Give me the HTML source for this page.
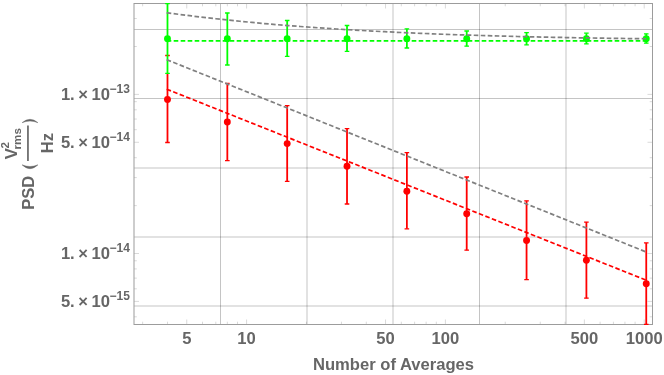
<!DOCTYPE html><html><head><meta charset="utf-8"><style>html,body{margin:0;padding:0;background:#fff}body{width:664px;height:375px;overflow:hidden}</style></head><body><svg width="664" height="375" viewBox="0 0 664 375" style="display:block;will-change:transform;font-family:'Liberation Sans',sans-serif;font-weight:bold">
<rect width="664" height="375" fill="#fff"/>
<line x1="220.5" y1="3.5" x2="220.5" y2="324.5" stroke="#000" stroke-opacity="0.23" stroke-width="1"/>
<line x1="307.0" y1="3.5" x2="307.0" y2="324.5" stroke="#000" stroke-opacity="0.23" stroke-width="1"/>
<line x1="393.0" y1="3.5" x2="393.0" y2="324.5" stroke="#000" stroke-opacity="0.23" stroke-width="1"/>
<line x1="479.5" y1="3.5" x2="479.5" y2="324.5" stroke="#000" stroke-opacity="0.23" stroke-width="1"/>
<line x1="566.0" y1="3.5" x2="566.0" y2="324.5" stroke="#000" stroke-opacity="0.23" stroke-width="1"/>
<line x1="134.0" y1="29.5" x2="652.5" y2="29.5" stroke="#000" stroke-opacity="0.23" stroke-width="1"/>
<line x1="134.0" y1="98.5" x2="652.5" y2="98.5" stroke="#000" stroke-opacity="0.23" stroke-width="1"/>
<line x1="134.0" y1="168.0" x2="652.5" y2="168.0" stroke="#000" stroke-opacity="0.23" stroke-width="1"/>
<line x1="134.0" y1="237.0" x2="652.5" y2="237.0" stroke="#000" stroke-opacity="0.23" stroke-width="1"/>
<line x1="134.0" y1="306.0" x2="652.5" y2="306.0" stroke="#000" stroke-opacity="0.23" stroke-width="1"/>
<clipPath id="c"><rect x="134.0" y="3.0" width="518.5" height="322.0"/></clipPath>
<path d="M186.76 324.5v-5.0M186.76 3.5v5.0M246.60 324.5v-5.0M246.60 3.5v5.0M385.56 324.5v-5.0M385.56 3.5v5.0M445.40 324.5v-5.0M445.40 3.5v5.0M584.36 324.5v-5.0M584.36 3.5v5.0M644.20 324.5v-5.0M644.20 3.5v5.0M142.65 324.5v-2.8M142.65 3.5v2.8M167.49 324.5v-2.8M167.49 3.5v2.8M202.50 324.5v-2.8M202.50 3.5v2.8M215.81 324.5v-2.8M215.81 3.5v2.8M227.33 324.5v-2.8M227.33 3.5v2.8M237.50 324.5v-2.8M237.50 3.5v2.8M306.44 324.5v-2.8M306.44 3.5v2.8M341.45 324.5v-2.8M341.45 3.5v2.8M366.29 324.5v-2.8M366.29 3.5v2.8M401.30 324.5v-2.8M401.30 3.5v2.8M414.61 324.5v-2.8M414.61 3.5v2.8M426.13 324.5v-2.8M426.13 3.5v2.8M436.30 324.5v-2.8M436.30 3.5v2.8M505.24 324.5v-2.8M505.24 3.5v2.8M540.25 324.5v-2.8M540.25 3.5v2.8M565.09 324.5v-2.8M565.09 3.5v2.8M600.10 324.5v-2.8M600.10 3.5v2.8M613.41 324.5v-2.8M613.41 3.5v2.8M624.93 324.5v-2.8M624.93 3.5v2.8M635.10 324.5v-2.8M635.10 3.5v2.8M134.0 94.40h5.0M652.5 94.40h-5.0M134.0 142.29h5.0M652.5 142.29h-5.0M134.0 253.50h5.0M652.5 253.50h-5.0M134.0 301.39h5.0M652.5 301.39h-5.0M134.0 18.49h2.8M652.5 18.49h-2.8M134.0 46.51h2.8M652.5 46.51h-2.8M134.0 101.68h2.8M652.5 101.68h-2.8M134.0 109.82h2.8M652.5 109.82h-2.8M134.0 119.04h2.8M652.5 119.04h-2.8M134.0 129.70h2.8M652.5 129.70h-2.8M134.0 157.71h2.8M652.5 157.71h-2.8M134.0 177.59h2.8M652.5 177.59h-2.8M134.0 205.61h2.8M652.5 205.61h-2.8M134.0 260.78h2.8M652.5 260.78h-2.8M134.0 268.92h2.8M652.5 268.92h-2.8M134.0 278.14h2.8M652.5 278.14h-2.8M134.0 288.80h2.8M652.5 288.80h-2.8M134.0 316.81h2.8M652.5 316.81h-2.8" stroke="#000" stroke-opacity="0.3" stroke-width="0.5" fill="none"/>
<rect x="134.0" y="3.5" width="518.5" height="321.0" fill="none" stroke="#9c9c9c" stroke-width="1"/>
<g clip-path="url(#c)">
<line x1="166.69" y1="89.18" x2="646.25" y2="280.2" stroke="#ff0000" stroke-width="1.7" stroke-dasharray="4.6 2.4" stroke-dashoffset="0"/>
<path d="M167.49 74V142.5M227.33 83.3V160.7M287.18 105.6V181.3M347.02 128.6V204M406.87 152.6V228.8M466.71 177V250.2M526.56 200.8V279.6M586.40 222.1V298.2M646.25 242.9V324.4" stroke="#ff0000" stroke-width="1.8" fill="none"/>
<path d="M165.19 55.5h4.6M165.19 142.5h4.6M225.03 83.3h4.6M225.03 160.7h4.6M284.88 105.6h4.6M284.88 181.3h4.6M344.72 128.6h4.6M344.72 204h4.6M404.57 152.6h4.6M404.57 228.8h4.6M464.41 177h4.6M464.41 250.2h4.6M524.26 200.8h4.6M524.26 279.6h4.6M584.10 222.1h4.6M584.10 298.2h4.6M643.95 242.9h4.6M643.95 324.4h4.6" stroke="#ff0000" stroke-width="1.3" fill="none"/>
<circle cx="167.49" cy="99.5" r="3.45" fill="#ff0000"/>
<circle cx="227.33" cy="122" r="3.45" fill="#ff0000"/>
<circle cx="287.18" cy="143.6" r="3.45" fill="#ff0000"/>
<circle cx="347.02" cy="166.2" r="3.45" fill="#ff0000"/>
<circle cx="406.87" cy="191.3" r="3.45" fill="#ff0000"/>
<circle cx="466.71" cy="213.8" r="3.45" fill="#ff0000"/>
<circle cx="526.56" cy="240.5" r="3.45" fill="#ff0000"/>
<circle cx="586.40" cy="260.2" r="3.45" fill="#ff0000"/>
<circle cx="646.25" cy="283.8" r="3.45" fill="#ff0000"/>
<line x1="166.69" y1="40.90" x2="646.25" y2="40.9" stroke="#00ff00" stroke-width="1.7" stroke-dasharray="4.6 2.4" stroke-dashoffset="0"/>
<path d="M167.49 3.6V73.4M227.33 13V65M287.18 20.5V56.3M347.02 25.5V51.3M406.87 28.8V48M466.71 31V46.2M526.56 32.7V44.9M586.40 33.2V43.9M646.25 33.8V43.2" stroke="#00ff00" stroke-width="1.8" fill="none"/>
<path d="M165.19 3.6h4.6M165.19 73.4h4.6M225.03 13h4.6M225.03 65h4.6M284.88 20.5h4.6M284.88 56.3h4.6M344.72 25.5h4.6M344.72 51.3h4.6M404.57 28.8h4.6M404.57 48h4.6M464.41 31h4.6M464.41 46.2h4.6M524.26 32.7h4.6M524.26 44.9h4.6M584.10 33.2h4.6M584.10 43.9h4.6M643.95 33.8h4.6M643.95 43.2h4.6" stroke="#00ff00" stroke-width="1.3" fill="none"/>
<circle cx="167.49" cy="38.8" r="3.45" fill="#00ff00"/>
<circle cx="227.33" cy="38.8" r="3.45" fill="#00ff00"/>
<circle cx="287.18" cy="38.8" r="3.45" fill="#00ff00"/>
<circle cx="347.02" cy="38.8" r="3.45" fill="#00ff00"/>
<circle cx="406.87" cy="38.8" r="3.45" fill="#00ff00"/>
<circle cx="466.71" cy="38.8" r="3.45" fill="#00ff00"/>
<circle cx="526.56" cy="38.8" r="3.45" fill="#00ff00"/>
<circle cx="586.40" cy="38.8" r="3.45" fill="#00ff00"/>
<circle cx="646.25" cy="38.8" r="3.45" fill="#00ff00"/>
<path d="M166.69 12.79 L167.49 12.88 L179.56 14.46 L191.62 15.96 L203.69 17.38 L215.76 18.74 L227.82 20.03 L239.89 21.26 L251.96 22.42 L264.02 23.53 L276.09 24.57 L288.16 25.56 L300.22 26.49 L312.29 27.38 L324.36 28.21 L336.42 29.00 L348.49 29.74 L360.56 30.44 L372.62 31.10 L384.69 31.72 L396.76 32.30 L408.82 32.85 L420.89 33.36 L432.96 33.85 L445.02 34.30 L457.09 34.73 L469.16 35.13 L481.22 35.50 L493.29 35.85 L505.36 36.18 L517.42 36.49 L529.49 36.78 L541.56 37.05 L553.62 37.30 L565.69 37.54 L577.76 37.76 L589.83 37.97 L601.89 38.16 L613.96 38.34 L626.03 38.51 L638.09 38.67 L646.25 38.77" stroke="#808080" stroke-width="1.7" stroke-dasharray="4.6 2.4" stroke-dashoffset="0" fill="none"/>
<line x1="166.69" y1="59.68" x2="646.25" y2="252.0" stroke="#808080" stroke-width="1.7" stroke-dasharray="4.6 2.4" stroke-dashoffset="0"/>
</g>
<g fill="#666666" font-size="16.6">
<text x="186.8" y="343.6" text-anchor="middle">5</text>
<text x="246.6" y="343.6" text-anchor="middle">10</text>
<text x="385.5" y="343.6" text-anchor="middle">50</text>
<text x="445.4" y="343.6" text-anchor="middle">100</text>
<text x="584.3" y="343.6" text-anchor="middle">500</text>
<text x="644.2" y="343.6" text-anchor="middle">1000</text>
<text x="60.9" y="100.1">1.</text>
<text x="83" y="100.1" text-anchor="middle">×</text>
<text x="91.6" y="100.1">10</text>
<text x="109.5" y="93.1" font-size="12">−13</text>
<text x="60.9" y="147.99">5.</text>
<text x="83" y="147.99" text-anchor="middle">×</text>
<text x="91.6" y="147.99">10</text>
<text x="109.5" y="140.99" font-size="12">−14</text>
<text x="60.9" y="259.2">1.</text>
<text x="83" y="259.2" text-anchor="middle">×</text>
<text x="91.6" y="259.2">10</text>
<text x="109.5" y="252.2" font-size="12">−14</text>
<text x="60.9" y="307.09">5.</text>
<text x="83" y="307.09" text-anchor="middle">×</text>
<text x="91.6" y="307.09">10</text>
<text x="109.5" y="300.09" font-size="12">−15</text>
<text x="393.5" y="369.5" text-anchor="middle">Number of Averages</text>
<text transform="translate(34 209.8) rotate(-90)" x="0" y="0">PSD</text>
<text transform="translate(16.8 159.2) rotate(-90)" x="0" y="0">V</text>
<text transform="translate(9.4 148.6) rotate(-90)" x="0" y="0" font-size="11.6">2</text>
<text transform="translate(21.3 149.4) rotate(-90)" x="0" y="0" font-size="11.6">rms</text>
<text transform="translate(53.1 153.3) rotate(-90)" x="0" y="0">Hz</text>
</g>
<line x1="27.95" y1="161" x2="27.95" y2="125.6" stroke="#666666" stroke-width="1.7"/>
<path d="M22 164.8Q30 172.6 38 164.8Q30 168.2 22 164.8ZM22 122.7Q30 115.9 38 122.7Q30 119.5 22 122.7Z" fill="#666666" stroke="#666666" stroke-width="0.4" stroke-linejoin="round"/>
</svg></body></html>
